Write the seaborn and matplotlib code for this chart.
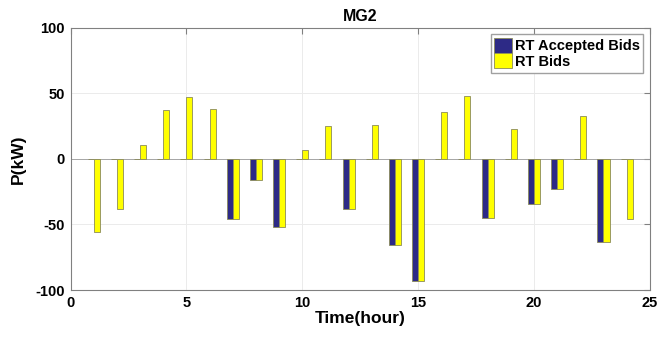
import numpy as np
import pandas as pd
import seaborn as sns
import matplotlib.pyplot as plt

# Values
hours = list(range(1, 25))
rt_bids = [-56, -38, 11, 37, 47, 38, -46, -16, -52, 7, 25, -38,
           26, -66, -93, 36, 48, -45, 23, -34, -23, 33, -63, -46]
rt_accepted = [0, 0, 0, 0, 0, 0, -46, -16, -52, 0, 0, -38,
               0, -66, -93, 0, 0, -45, 0, -34, -23, 0, -63, 0]
series_names = ["RT Accepted Bids", "RT Bids"]

df = pd.DataFrame({
    "hour": hours * 2,
    "P": rt_accepted + rt_bids,
    "series": [series_names[0]] * len(hours) + [series_names[1]] * len(hours),
})

sns.set_style("white")
plt.rcParams["font.family"] = ["Liberation Sans", "DejaVu Sans"]
plt.rcParams["axes.unicode_minus"] = False
plt.rcParams["text.color"] = "black"
plt.rcParams["axes.labelcolor"] = "black"
plt.rcParams["xtick.color"] = "black"
plt.rcParams["ytick.color"] = "black"

fig = plt.figure(figsize=(6.72, 3.40), dpi=100)
ax = fig.add_axes([0.105, 0.147, 0.862, 0.771])

palette = {"RT Accepted Bids": "#2D2A86", "RT Bids": "#FFFF00"}
sns.barplot(data=df, x="hour", y="P", hue="series", palette=palette,
            native_scale=True, width=0.52, errorbar=None, saturation=1,
            edgecolor="#8A8A5A", linewidth=0.6, ax=ax, zorder=3)

ax.set_xlim(0, 25)
ax.set_ylim(-100, 100)
ax.set_xticks(range(0, 26, 5))
ax.set_yticks([-100, -50, 0, 50, 100])
ax.grid(True, color="#EBEBEB", linewidth=0.7, zorder=0)
ax.set_axisbelow(True)
ax.axhline(0, color="#9A9A9A", linewidth=0.6, zorder=2)

ax.tick_params(direction="in", top=True, right=True, length=4,
               color="#808080", labelsize=10.5, pad=4)
for lab in ax.get_xticklabels() + ax.get_yticklabels():
    lab.set_fontweight("bold")
for sp in ax.spines.values():
    sp.set_color("#808080")
    sp.set_linewidth(0.8)

ax.set_title("MG2", fontsize=11.5, fontweight="bold", pad=5)
ax.set_xlabel("Time(hour)", fontsize=12.5, fontweight="bold", labelpad=1)
ax.set_ylabel("P(kW)", fontsize=12.5, fontweight="bold")
ax.yaxis.set_label_coords(-0.078, 0.5)

handles, labels = ax.get_legend_handles_labels()
ax.legend(handles, labels, loc="upper right", frameon=True, fancybox=False,
          edgecolor="#A0A0A0", framealpha=1, prop={"weight": "bold", "size": 10.5},
          handlelength=1.2, handleheight=1.2, handletextpad=0.2,
          labelspacing=0.0, borderpad=0.25, borderaxespad=0.45)

fig.savefig("out.png", dpi=100)
